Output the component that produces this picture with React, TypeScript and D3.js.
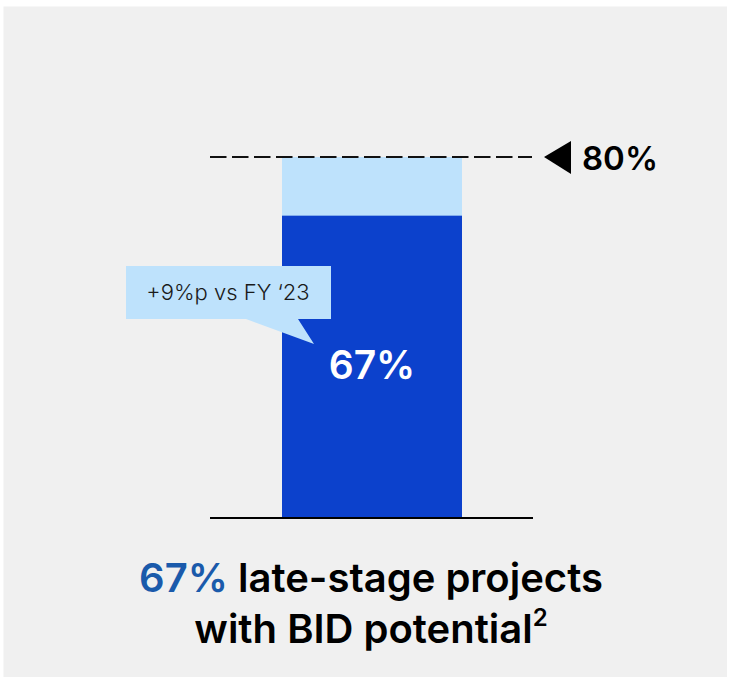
import React from 'react';
import * as d3 from 'd3';

// values
const categories = ['late-stage projects'];
const currentShare = [67];
const targetShare = [80];
const deltaLabel = '+9%p vs FY ‘23';
const targetLabel = '80%';
const valueLabel = '67%';
const titleLead = '67%';
const titleRest = ' late-stage projects';
const titleLine2 = 'with BID potential';
const titleSup = '2';

const W = 733;
const H = 677;
const FONT = 'Inter, "Noto Sans", sans-serif';

export default function App() {
  const y = d3.scaleLinear().domain([0, 80]).range([518, 157]);
  const x = d3.scaleBand().domain(categories).range([282, 462]).padding(0);

  const bw = x.bandwidth();
  const x0 = x(categories[0])!;
  const yTarget = y(targetShare[0]);
  const yCur = y(currentShare[0]);

  // callout bubble
  const bx0 = 126, bx1 = 331, by0 = 266, by1 = 319;
  const bubble = d3.path();
  bubble.moveTo(bx0, by0);
  bubble.lineTo(bx1, by0);
  bubble.lineTo(bx1, by1);
  bubble.lineTo(298, by1);
  bubble.lineTo(314, 344);
  bubble.lineTo(246, by1);
  bubble.lineTo(bx0, by1);
  bubble.closePath();

  return (
    <svg width={W} height={H} style={{ position: 'absolute', left: 0, top: 0 }}>
      <rect x={0} y={0} width={W} height={H} fill="#ffffff" />
      <rect x={3.5} y={6.5} width={723.5} height={H - 6.5} fill="#f0f0f0" />

      {/* target bar (light) */}
      <rect x={x0} y={yTarget} width={bw} height={y(0) - yTarget} fill="#bee2fc" />
      {/* current bar (dark) */}
      <rect x={x0} y={yCur} width={bw} height={y(0) - yCur} fill="#0c41cc" />

      {/* baseline */}
      <line x1={210} x2={533} y1={y(0)} y2={y(0)} stroke="#000" strokeWidth={2} />

      {/* target dashed line */}
      <line x1={210} x2={532} y1={yTarget} y2={yTarget} stroke="#111" strokeWidth={2}
        strokeDasharray="16.5 5.5" />
      <path d={`M544,${yTarget} L571,${yTarget - 16} L571,${yTarget + 17} Z`} fill="#000" />
      <text x={582} y={yTarget + 13} fontFamily={FONT} fontWeight={600} fontSize={33} fill="#000">
        {targetLabel}
      </text>

      {/* bubble */}
      <path d={bubble.toString()} fill="#bee2fc" />
      <text x={228} y={300} textAnchor="middle" fontFamily={FONT} fontWeight={300}
        fontSize={22} fill="#1a1a1a">
        {deltaLabel}
      </text>

      {/* value label */}
      <text x={x0 + bw / 2} y={379} textAnchor="middle" fontFamily={FONT} fontWeight={600}
        fontSize={39} fill="#fff">
        {valueLabel}
      </text>

      {/* title */}
      <text x={371} y={592} textAnchor="middle" fontFamily={FONT} fontWeight={600} fontSize={40} fill="#000">
        <tspan fill="#1a5aab">{titleLead}</tspan>
        <tspan>{titleRest}</tspan>
      </text>
      <text x={371} y={643} textAnchor="middle" fontFamily={FONT} fontWeight={600} fontSize={40} fill="#000">
        <tspan>{titleLine2}</tspan>
        <tspan fontSize={24} dy={-17}>{titleSup}</tspan>
      </text>
    </svg>
  );
}
